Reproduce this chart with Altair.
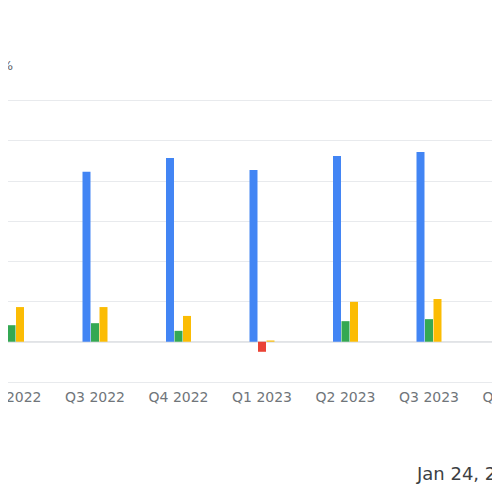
import altair as alt
import pandas as pd

# ---- data ----
quarters = ["Q2 2022", "Q3 2022", "Q4 2022", "Q1 2023", "Q2 2023", "Q3 2023"]
all_quarters = quarters + ["Q4 2023"]
revenue = [4.09, 4.22, 4.56, 4.26, 4.61, 4.71]
net_income = [0.41, 0.46, 0.27, -0.25, 0.51, 0.56]
third_series = [0.86, 0.86, 0.64, 0.03, 0.99, 1.06]
series_names = ["Revenue", "Net income", "Operating income"]
series_colors = ["#4285F4", "#34A853", "#FBBC04"]
negative_name = "Negative"
negative_color = "#EA4335"
grid_values = [-1, 0, 1, 2, 3, 4, 5, 6]
corner_label = "%"
date_label = "Jan 24, 2024"

rows = []
for i, q in enumerate(quarters):
    for name, vals in zip(series_names, [revenue, net_income, third_series]):
        v = vals[i]
        rows.append({"quarter": q, "series": name, "value": v,
                     "key": negative_name if v < 0 else name})
df = pd.DataFrame(rows)

x_enc = alt.X(
    "quarter:N",
    sort=all_quarters,
    scale=alt.Scale(domain=all_quarters, range=[-38.25, 546.25],
                    paddingInner=0, paddingOuter=0),
    axis=alt.Axis(title=None, domain=False, ticks=False, grid=False,
                  labelFont="DejaVu Sans", labelFontSize=14,
                  labelColor="#70757a", labelPadding=8, labelAngle=0),
)
y_enc = alt.Y(
    "value:Q",
    scale=alt.Scale(domain=[-1, 6], nice=False, zero=False),
    axis=alt.Axis(title=None, labels=False, ticks=False, domain=False,
                  values=grid_values, gridColor="#e8eaed", gridWidth=1),
)

bars = alt.Chart(df).mark_bar().encode(
    x=x_enc,
    xOffset=alt.XOffset("series:N", sort=series_names,
                        scale=alt.Scale(domain=series_names, range=[29.25, 54.25],
                                        paddingInner=0.06, paddingOuter=0)),
    y=y_enc,
    color=alt.Color("key:N",
                    scale=alt.Scale(domain=series_names + [negative_name],
                                    range=series_colors + [negative_color]),
                    legend=None),
)

zero_rule = alt.Chart(pd.DataFrame({"v": [0]})).mark_rule(
    color="#dadce0", strokeWidth=1
).encode(y="v:Q")

corner = alt.Chart(pd.DataFrame({"t": [corner_label]})).mark_text(
    align="right", baseline="alphabetic", font="DejaVu Sans",
    fontSize=13, color="#5f6368"
).encode(text="t:N", x=alt.value(5), y=alt.value(-30))

date = alt.Chart(pd.DataFrame({"t": [date_label]})).mark_text(
    align="left", baseline="alphabetic", font="DejaVu Sans",
    fontSize=18, color="#3c4043"
).encode(text="t:N", x=alt.value(409), y=alt.value(380))

chart = alt.layer(zero_rule, bars, corner, date).properties(
    width=484, height=282,
    autosize=alt.AutoSizeParams(type="none"),
    padding={"left": 0, "top": 92, "right": 0, "bottom": 110},
    background="white",
).configure_view(stroke=None)

chart.save("out.html", embed_options={"renderer": "svg", "actions": False})
